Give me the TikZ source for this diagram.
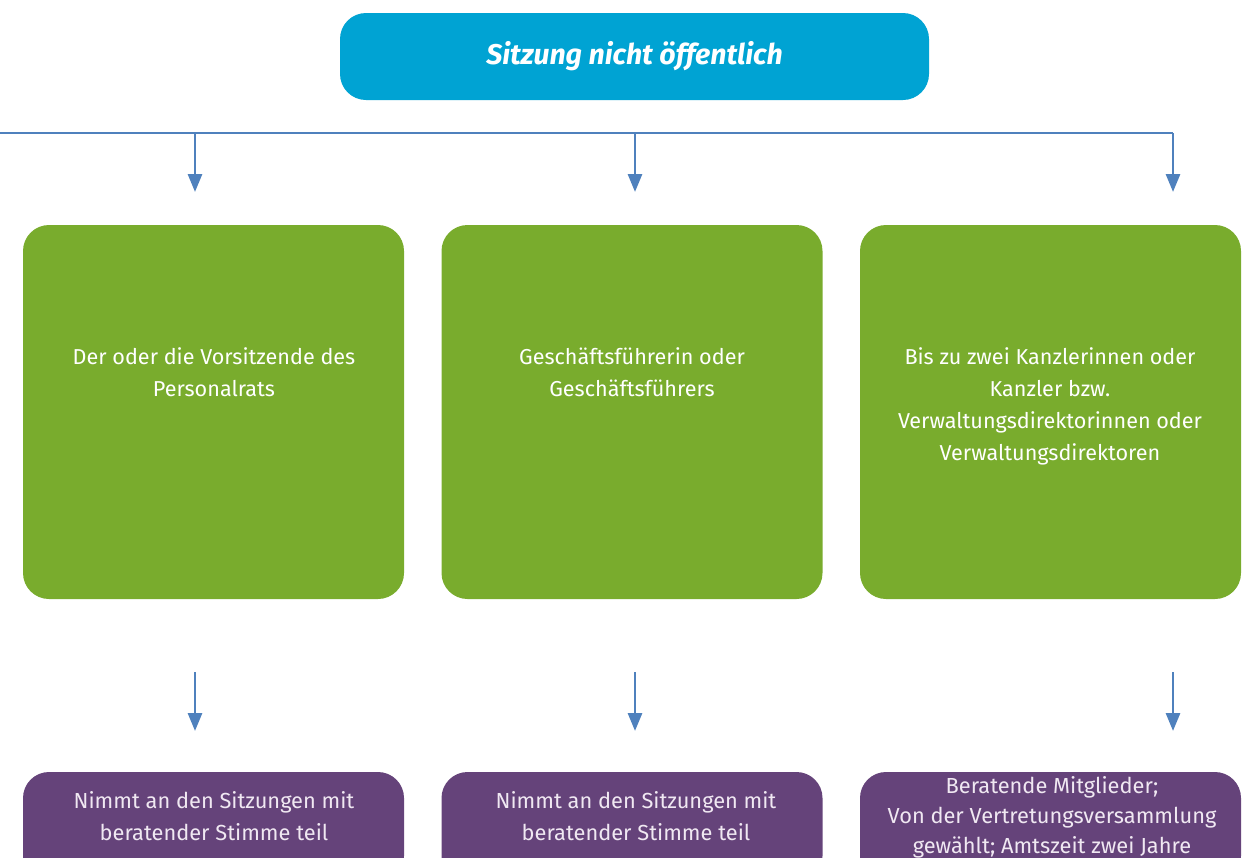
\documentclass[tikz,border=0pt]{standalone}
\usepackage{fontspec}
\setmainfont{Fira Sans}
\newfontfamily\headfont{Fira Sans}
\usetikzlibrary{arrows.meta}
\definecolor{headblue}{RGB}{0,163,211}
\definecolor{boxgreen}{RGB}{121,172,45}
\definecolor{boxpurple}{RGB}{101,67,122}
\definecolor{linkblue}{RGB}{79,129,189}
\definecolor{paletext}{RGB}{240,232,242}
\begin{document}
\begin{tikzpicture}[x=1pt,y=-1pt,
  headbox/.style={fill=headblue,rounded corners=26pt,minimum width=589pt,minimum height=87pt,inner sep=0pt,
    text=white,font=\headfont\bfseries\itshape\fontsize{28.5}{32}\selectfont},
  greenbox/.style={fill=boxgreen,rounded corners=26pt,minimum width=381pt,minimum height=374pt,inner sep=0pt},
  purplebox/.style={fill=boxpurple,rounded corners=26pt,minimum width=381pt,minimum height=110pt,inner sep=0pt},
  greentext/.style={text=white,align=center,font=\fontsize{21.6}{32}\selectfont,inner sep=0pt,anchor=north},
  purpletext/.style={text=paletext,align=center,inner sep=0pt},
  link/.style={draw=linkblue,line width=2.9pt},
  linkarrow/.style={link,-{Triangle[width=14pt,length=18pt]}}]
\useasboundingbox (0,0) rectangle (1247,857);
\clip (0,0) rectangle (1247,857);

% heading
\node[headbox] (head) at (634.5,56.5) {\raisebox{5pt}{Sitzung nicht öffentlich}};

% green member boxes
\node[greenbox] (g1) at (213.5,412) {};
\node[greenbox] (g2) at (632,412) {};
\node[greenbox] (g3) at (1050.5,412) {};
\node[greentext] (g1t) at (214,347) {Der oder die Vorsitzende des\\Personalrats};
\node[greentext] (g2t) at (632,347) {Geschäftsführerin oder\\Geschäftsführers};
\node[greentext] (g3t) at (1050,347) {Bis zu zwei Kanzlerinnen oder\\Kanzler bzw.\\Verwaltungsdirektorinnen oder\\Verwaltungsdirektoren};

% purple role boxes (run past the lower edge)
\node[purplebox] (p1) at (213.5,827) {};
\node[purplebox] (p2) at (632,827) {};
\node[purplebox] (p3) at (1050.5,827) {};
\node[purpletext,font=\fontsize{21.8}{32}\selectfont] (p1t) at (214,816) {Nimmt an den Sitzungen mit\\beratender Stimme teil};
\node[purpletext,font=\fontsize{21.8}{32}\selectfont] (p2t) at (636,816) {Nimmt an den Sitzungen mit\\beratender Stimme teil};
\node[purpletext,font=\fontsize{21.8}{30}\selectfont] (p3t) at (1052,817) {Beratende Mitglieder;\\Von der Vertretungsversammlung\\gewählt; Amtszeit zwei Jahre};

% connector ends
\coordinate (bus0) at (0,133);
\coordinate (bus1) at (195,133);
\coordinate (bus2) at (635,133);
\coordinate (bus3) at (1173,133);
\coordinate (a1) at (195,192);
\coordinate (a2) at (635,192);
\coordinate (a3) at (1173,192);
\coordinate (b1s) at (195,672);
\coordinate (b2s) at (635,672);
\coordinate (b3s) at (1173,672);
\coordinate (b1) at (195,731);
\coordinate (b2) at (635,731);
\coordinate (b3) at (1173,731);

% distribution line
\draw[link] (bus0) -- (bus3);
\draw[linkarrow] (bus1) -- (a1);
\draw[linkarrow] (bus2) -- (a2);
\draw[linkarrow] (bus3) -- (a3);

% lower arrows
\draw[linkarrow] (b1s) -- (b1);
\draw[linkarrow] (b2s) -- (b2);
\draw[linkarrow] (b3s) -- (b3);
\end{tikzpicture}
\end{document}
